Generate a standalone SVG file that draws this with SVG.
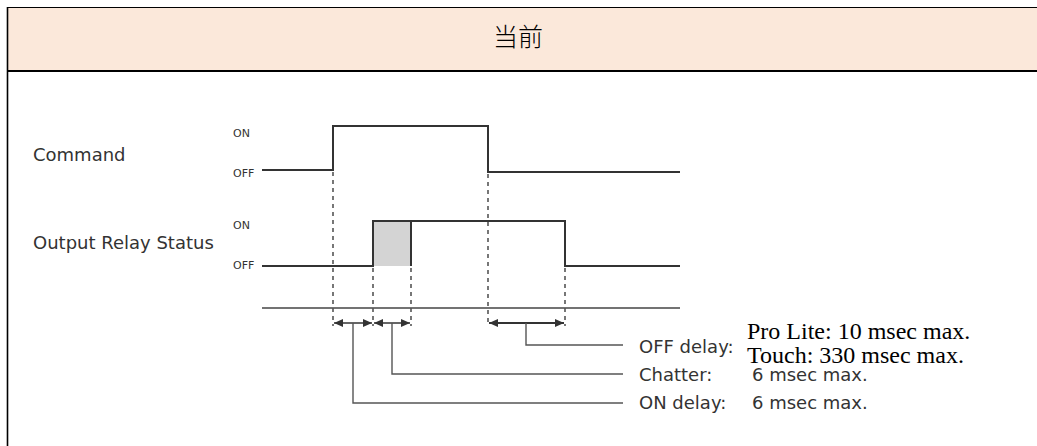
<svg xmlns="http://www.w3.org/2000/svg" width="1037" height="446" viewBox="0 0 1037 446">
<defs>
<style>
.lbl{font-family:"DejaVu Sans","Liberation Sans",sans-serif;fill:#333;}
.big{font-size:18px;}
.small{font-size:11px;}
.ser{font-family:"Liberation Serif",serif;font-size:24px;fill:#000;}
.sig{fill:none;stroke:#333;stroke-width:2;}
.dash{fill:none;stroke:#555;stroke-width:1.6;stroke-dasharray:4,4;}
.lead{fill:none;stroke:#555;stroke-width:1.4;}
.arr{fill:none;stroke:#333;stroke-width:1.6;marker-start:url(#ah);marker-end:url(#ah);}
</style>
<marker id="ah" viewBox="0 0 10 10" refX="10" refY="5" markerWidth="9" markerHeight="8" markerUnits="userSpaceOnUse" orient="auto-start-reverse" preserveAspectRatio="none">
<path d="M0,0 L10,5 L0,10 z" fill="#333"/>
</marker>
</defs>
<rect width="1037" height="446" fill="#fff"/>
<g id="header">
<rect x="7.5" y="7" width="1040" height="64" fill="#FBE8DA"/>
<line x1="7" y1="7.5" x2="1037" y2="7.5" stroke="#000" stroke-width="1.2"/>
<line x1="7" y1="71" x2="1037" y2="71" stroke="#000" stroke-width="2"/>
<text x="518" y="46" text-anchor="middle" font-family="Noto Sans CJK SC, sans-serif" font-size="25" font-weight="300" fill="#000">当前</text>
</g>
<line x1="7.5" y1="7" x2="7.5" y2="446" stroke="#000" stroke-width="1.6"/>
<g id="command">
<text class="lbl big" x="33" y="161">Command</text>
<text class="lbl small" x="233" y="137">ON</text>
<text class="lbl small" x="233" y="177">OFF</text>
<path class="sig" d="M262,170 H333 V126 H488 V172 H680"/>
</g>
<g id="relay">
<text class="lbl big" x="33" y="249">Output Relay Status</text>
<text class="lbl small" x="233" y="229">ON</text>
<text class="lbl small" x="233" y="269">OFF</text>
<rect x="373" y="221" width="38" height="45" fill="#d4d4d4"/>
<path class="sig" d="M262,266 H373 V221 H565 V266 H680"/>
<line class="sig" x1="411" y1="221" x2="411" y2="266"/>
</g>
<g id="connectors">
<line x1="262" y1="308" x2="680" y2="308" stroke="#444" stroke-width="1.4"/>
<line class="dash" x1="333" y1="172" x2="333" y2="326"/>
<line class="dash" x1="373" y1="268" x2="373" y2="326"/>
<line class="dash" x1="411" y1="268" x2="411" y2="326"/>
<line class="dash" x1="488" y1="174" x2="488" y2="326"/>
<line class="dash" x1="565" y1="268" x2="565" y2="326"/>
<line class="arr" x1="334" y1="323" x2="372" y2="323"/>
<line class="arr" x1="374" y1="323" x2="410" y2="323"/>
<line class="arr" x1="489" y1="323" x2="564" y2="323" style="stroke-width:2.2"/>
<path class="lead" d="M526,323 V345 H623"/>
<path class="lead" d="M392,323 V374 H623"/>
<path class="lead" d="M353,323 V403 H623"/>
</g>
<g id="legend">
<text class="lbl big" x="639" y="353">OFF delay:</text>
<text class="lbl big" x="639" y="381">Chatter:</text>
<text class="lbl big" x="639" y="409">ON delay:</text>
<text class="lbl big" x="752" y="381">6 msec max.</text>
<text class="lbl big" x="752" y="409">6 msec max.</text>
<text class="ser" x="747" y="339">Pro Lite: 10 msec max.</text>
<text class="ser" x="747" y="363">Touch: 330 msec max.</text>
</g>
</svg>
